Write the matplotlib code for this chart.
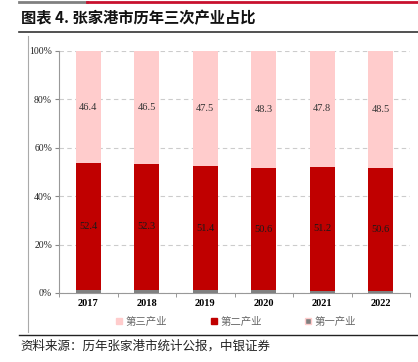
import matplotlib
matplotlib.use("Agg")
import matplotlib.pyplot as plt
from matplotlib.lines import Line2D
import numpy as np

years = ["2017", "2018", "2019", "2020", "2021", "2022"]
tertiary = [46.4, 46.5, 47.5, 48.3, 47.8, 48.5]
secondary = [52.4, 52.3, 51.4, 50.6, 51.2, 50.6]
primary = [1.2, 1.2, 1.1, 1.1, 1.0, 0.9]
yticks = [0, 20, 40, 60, 80, 100]
legend_labels = ["第三产业", "第二产业", "第一产业"]
title = "图表 4. 张家港市历年三次产业占比"
source = "资料来源：历年张家港市统计公报，中银证券"

c_ter = "#FFCCCC"
c_sec = "#C00000"
c_pri = "#808080"

serif = ["Liberation Serif", "DejaVu Serif"]
cjk = ["Noto Sans CJK SC", "DejaVu Sans"]

W, H = 418, 362
fig = plt.figure(figsize=(W / 100, H / 100), dpi=100)

ax = fig.add_axes([59 / W, 1 - 293 / H, (410 - 59) / W, (293 - 51) / H])
x = np.arange(len(years))
bw = 0.43
pri = np.array(primary)
sec = np.array(secondary)
ter = np.array(tertiary)
ax.bar(x, pri, bw, color=c_pri, zorder=3)
ax.bar(x, sec, bw, bottom=pri, color=c_sec, zorder=3)
ax.bar(x, ter, bw, bottom=pri + sec, color=c_ter, zorder=3)

for i in range(len(years)):
    ax.text(x[i], pri[i] + sec[i] / 2, f"{sec[i]:.1f}", ha="center", va="center",
            fontsize=7.5, family=serif, color="#1a1a1a", zorder=4)
    ax.text(x[i], pri[i] + sec[i] + ter[i] / 2, f"{ter[i]:.1f}", ha="center", va="center",
            fontsize=7.5, family=serif, color="#333333", zorder=4)

ax.set_xlim(-0.5, len(years) - 0.5)
ax.set_ylim(0, 100)
ax.set_yticks(yticks)
ax.set_yticklabels([f"{v}%" for v in yticks], family=serif, fontsize=7)
ax.set_xticks(x)
ax.set_xticklabels(years, family=serif, fontsize=7.5, fontweight="bold")
ax.set_xticks(np.arange(-0.5, len(years), 1), minor=True)
ax.tick_params(axis="x", which="major", length=0, pad=4)
ax.tick_params(axis="x", which="minor", length=3, color="#888888")
ax.tick_params(axis="y", length=3, color="#888888", pad=2)
for t in ax.get_yticklabels():
    t.set_color("#222222")
ax.grid(axis="y", linestyle=(0, (4, 3)), color="#CCCCCC", linewidth=0.8, zorder=0)
for s in ["top", "right"]:
    ax.spines[s].set_visible(False)
ax.spines["left"].set_color("#999999")
ax.spines["bottom"].set_color("#999999")

handles = [Line2D([], [], marker="s", linestyle="none", markersize=5, markerfacecolor=c_ter, markeredgecolor=c_ter),
           Line2D([], [], marker="s", linestyle="none", markersize=5, markerfacecolor=c_sec, markeredgecolor=c_sec),
           Line2D([], [], marker="s", linestyle="none", markersize=5, markerfacecolor=c_pri, markeredgecolor=c_ter)]
leg = fig.legend(handles, legend_labels, loc="center left", bbox_to_anchor=(114 / W, 1 - 322 / H),
                 ncol=3, frameon=False, prop={"family": cjk, "size": 7.5},
                 handletextpad=0.1, columnspacing=4.0, handlelength=1, borderpad=0, borderaxespad=0)
for t in leg.get_texts():
    t.set_color("#666666")

# Decorative lines
fig.add_artist(Line2D([19 / W, 87 / W], [1 - 1.5 / H] * 2, color="#808080", lw=2))
fig.add_artist(Line2D([87 / W, 1], [1 - 1.5 / H] * 2, color="#C8102E", lw=2))
fig.add_artist(Line2D([19 / W, 1], [1 - 32 / H] * 2, color="#333333", lw=1.2))
fig.add_artist(Line2D([28 / W, 28 / W], [1 - 36 / H, 1 - 332 / H], color="#AAAAAA", lw=0.8))
fig.add_artist(Line2D([19 / W, 1], [1 - 335 / H] * 2, color="#222222", lw=1))

fig.text(21 / W, 1 - 18 / H, title, ha="left", va="center", fontsize=11,
         fontweight="bold", family=cjk, color="#111111")
fig.text(20 / W, 1 - 346 / H, source, ha="left", va="center", fontsize=9,
         family=cjk, style="italic", color="#222222")

fig.savefig("out.png", dpi=100)
